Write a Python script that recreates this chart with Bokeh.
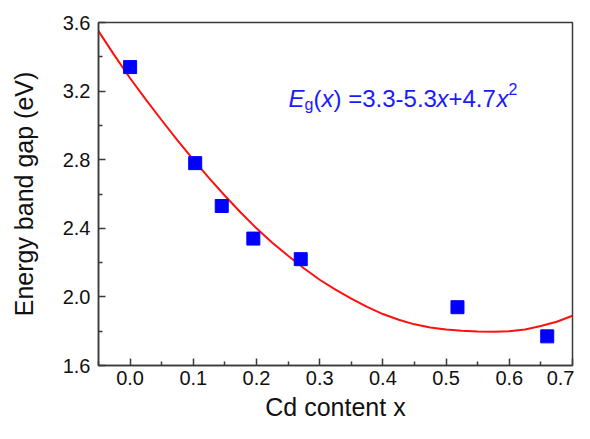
from bokeh.plotting import figure
from bokeh.models import Range1d, FixedTicker, Label, PrintfTickFormatter
from bokeh.embed import file_html
from bokeh.resources import INLINE

# measured data
cd_x = [0.0, 0.103, 0.145, 0.195, 0.270, 0.518, 0.660]
eg = [3.34, 2.78, 2.53, 2.34, 2.22, 1.94, 1.77]

# fitted curve
fit_x = [-0.05, -0.025, 0.0, 0.025, 0.05, 0.075, 0.10, 0.125, 0.15, 0.175, 0.20, 0.225,
         0.25, 0.275, 0.30, 0.325, 0.35, 0.375, 0.40, 0.425, 0.45, 0.475, 0.50, 0.525,
         0.55, 0.575, 0.60, 0.625, 0.65, 0.675, 0.70]
fit_y = [3.55, 3.41, 3.275, 3.15, 3.03, 2.913, 2.80, 2.693, 2.59, 2.492, 2.40, 2.316,
         2.24, 2.167, 2.10, 2.042, 1.99, 1.942, 1.90, 1.867, 1.84, 1.822, 1.81, 1.802,
         1.798, 1.797, 1.80, 1.81, 1.83, 1.855, 1.89]

x_ticks = [0.0, 0.1, 0.2, 0.3, 0.4, 0.5, 0.6, 0.7]
x_minor = [-0.05, 0.05, 0.15, 0.25, 0.35, 0.45, 0.55, 0.65]
y_ticks = [1.6, 2.0, 2.4, 2.8, 3.2, 3.6]
y_minor = [1.8, 2.2, 2.6, 3.0, 3.4]

FONT = "Liberation Sans"
AX = "#3a3a3a"

p = figure(width=574, height=423, output_backend="svg", toolbar_location=None,
           x_range=Range1d(-0.05, 0.7), y_range=Range1d(1.6, 3.6),
           min_border_left=98, min_border_right=2, min_border_top=22, min_border_bottom=56,
           x_axis_label="Cd content x", y_axis_label="Energy band gap (eV)")
p.grid.visible = False
p.outline_line_color = AX
p.outline_line_width = 1.5
p.background_fill_color = "white"
p.border_fill_color = "white"

for ax, ticks, minor in ((p.xaxis[0], x_ticks, x_minor), (p.yaxis[0], y_ticks, y_minor)):
    ax.ticker = FixedTicker(ticks=ticks, minor_ticks=minor)
    ax.formatter = PrintfTickFormatter(format="%.1f")
    ax.axis_line_color = AX
    ax.axis_line_width = 1.5
    ax.major_tick_line_color = AX
    ax.minor_tick_line_color = AX
    ax.major_tick_line_width = 1.5
    ax.minor_tick_line_width = 1.5
    ax.major_tick_in = 7
    ax.major_tick_out = 0
    ax.minor_tick_in = 4
    ax.minor_tick_out = 0
    ax.major_label_text_font = FONT
    ax.major_label_text_font_size = "20px"
    ax.major_label_text_color = "#111111"
    ax.axis_label_text_font = FONT
    ax.axis_label_text_font_size = "25px"
    ax.axis_label_text_font_style = "normal"
    ax.axis_label_text_color = "#111111"

p.xaxis.major_label_standoff = 5
p.yaxis.major_label_standoff = 8
p.xaxis.axis_label_standoff = 5
p.yaxis.axis_label_standoff = 22

p.line(fit_x, fit_y, line_color="#ff1010", line_width=2)
p.scatter(cd_x, eg, marker="square", size=13, fill_color="#0000ff", line_color="#0000ff")

def lab(text, x, y, size, style="normal", color="#1a1aff"):
    p.add_layout(Label(text=text, x=x, y=y, x_units="screen", y_units="screen",
                       text_font=FONT, text_font_size=size, text_font_style=style,
                       text_color=color, text_baseline="alphabetic"))

# equation
lab("E", 190, 267, "24px", style="italic")
lab("g", 206, 261, "16px")
lab("(", 215, 267, "24px")
lab("x", 223, 267, "24px", style="italic")
lab(") =3.3-5.3", 235, 267, "24px")
lab("x", 338, 267, "24px", style="italic")
lab("+4.7", 350, 267, "24px")
lab("x", 398, 267, "24px", style="italic")
lab("2", 410, 277, "16px")

open("out.html", "w").write(file_html(p, INLINE))
